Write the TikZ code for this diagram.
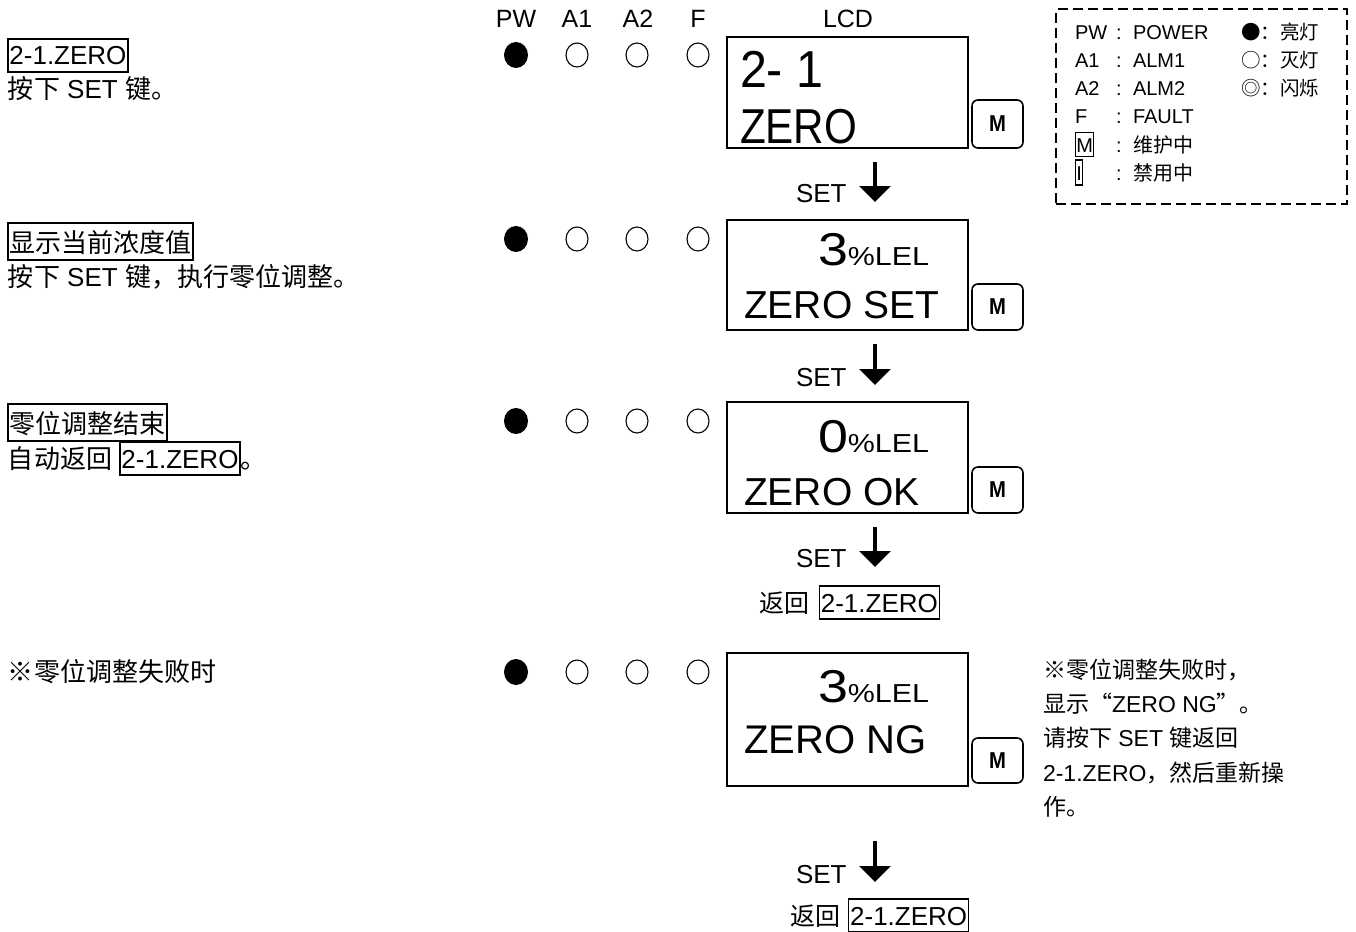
\documentclass[tikz,border=0pt]{standalone}
\usepackage{fontspec}
\usepackage{graphicx}
\setmainfont{Liberation Sans}
\newfontfamily\cjk{Noto Sans CJK SC}
\usetikzlibrary{arrows.meta,shapes.geometric}
\newcommand{\fs}[1]{\fontsize{#1}{#1}\selectfont}
\begin{document}
\begin{tikzpicture}[x=1pt,y=-1pt,
 txt/.style={anchor=base west, inner sep=0pt, outer sep=0pt},
 ctxt/.style={anchor=base, inner sep=0pt, outer sep=0pt},
 lcdbox/.style={draw, line width=2pt, minimum width=241pt, inner sep=0pt},
 mbtn/.style={draw, line width=1.6pt, rounded corners=6pt, minimum width=51pt, inner sep=0pt},
 ledon/.style={ellipse, fill=black, minimum width=24pt, minimum height=26pt, inner sep=0pt},
 ledoff/.style={ellipse, draw, line width=1.1pt, minimum width=22pt, minimum height=24pt, inner sep=0pt},
 zbox/.style={draw, line width=1.3pt, anchor=base west, inner xsep=1.5pt, inner ysep=0pt, text height=26pt, text depth=7pt, font=\fs{26}},
 cbox/.style={zbox, text height=29pt, text depth=8pt, font=\cjk\fs{26}},
 setarr/.style={line width=3.5pt, -{Triangle[width=31pt,length=16pt]}},
 setlbl/.style={txt, font=\fs{26}},
 hdr/.style={ctxt, font=\fs{25}},
 lgd/.style={txt, font=\fs{20}},
 legendbox/.style={draw, line width=2pt, dash pattern=on 10pt off 5pt, inner sep=0pt},
]
\useasboundingbox (0,0) rectangle (1356,931);
\clip (0,0) rectangle (1356,931);

% ---------- left column ----------
\node[zbox] (t1) at (7.3,65) {2-1.ZERO};
\node[txt, font=\fs{26}] (t1b) at (8,99) {{\cjk 按下} SET {\cjk 键。}};
\node[cbox] (t2) at (7.3,252) {显示当前浓度值};
\node[txt, font=\fs{26}] (t2b) at (8,286) {{\cjk 按下} SET {\cjk 键，执行零位调整。}};
\node[cbox] (t3) at (7.3,433) {零位调整结束};
\node[txt, font=\cjk\fs{26}] (t3b) at (8,468) {自动返回};
\node[zbox] (t3c) at (119.3,468) {2-1.ZERO};
\node[txt, font=\cjk\fs{26}] (t3d) at (t3c.base east) {。};
\node[txt, font=\cjk\fs{26}] (t4) at (8,681) {※零位调整失败时};

% ---------- LED header ----------
\node[hdr] (hpw) at (516,28) {PW};
\node[hdr] (ha1) at (577,28) {A1};
\node[hdr] (ha2) at (638,28) {A2};
\node[hdr] (hf) at (698,28) {F};
\node[hdr] (hlcd) at (848,28) {LCD};

\foreach \r/\y in {1/55,2/239,3/421,4/672}{
  \node[ledon] (pw\r) at (516,\y) {};
  \node[ledoff] (aa\r) at (577,\y) {};
  \node[ledoff] (ab\r) at (637,\y) {};
  \node[ledoff] (ff\r) at (698,\y) {};
}

% ---------- LCD boxes ----------
\node[lcdbox, minimum height=111.6pt] (lcd1) at (847.8,92.5) {};
\node[lcdbox, minimum height=110pt] (lcd2) at (847.8,275) {};
\node[lcdbox, minimum height=111pt] (lcd3) at (847.8,457.5) {};
\node[lcdbox, minimum height=133pt] (lcd4) at (847.8,719.5) {};

\node[txt] (l1a) at (740,88) {\fs{52}\scalebox{0.93}[1]{2- 1}};
\node[txt] (l1b) at (740,143) {\fs{49}\scalebox{0.86}[1]{ZERO}};
\node[txt] (l2a) at (818,265) {\scalebox{1.17}[1]{\fs{46}3\fs{26}\%LEL}};
\node[txt] (l2b) at (744,318) {\fs{39}ZERO SET};
\node[txt] (l3a) at (818,452) {\scalebox{1.17}[1]{\fs{46}0\fs{26}\%LEL}};
\node[txt] (l3b) at (744,505) {\fs{39}ZERO OK};
\node[txt] (l4a) at (818,702) {\scalebox{1.17}[1]{\fs{46}3\fs{26}\%LEL}};
\node[txt] (l4b) at (744,753) {\fs{40}ZERO NG};

% ---------- M buttons ----------
\newcommand{\mlbl}{\fs{23}\bfseries\scalebox{0.88}[1]{M}}
\node[mbtn, minimum height=48pt] (m1) at (997.5,124) {\mlbl};
\node[mbtn, minimum height=46pt] (m2) at (997.5,307) {\mlbl};
\node[mbtn, minimum height=46pt] (m3) at (997.5,490) {\mlbl};
\node[mbtn, minimum height=45pt] (m4) at (997.5,760.5) {\mlbl};

% ---------- SET arrows ----------
\coordinate (s1a) at (875,162); \coordinate (s1b) at (875,202);
\coordinate (s2a) at (875,344); \coordinate (s2b) at (875,385);
\coordinate (s3a) at (875,527); \coordinate (s3b) at (875,567);
\coordinate (s4a) at (875,841); \coordinate (s4b) at (875,882);
\draw[setarr] (s1a) -- (s1b);
\draw[setarr] (s2a) -- (s2b);
\draw[setarr] (s3a) -- (s3b);
\draw[setarr] (s4a) -- (s4b);
\node[setlbl] (set1) at (796,202) {SET};
\node[setlbl] (set2) at (796,386) {SET};
\node[setlbl] (set3) at (796,567) {SET};
\node[setlbl] (set4) at (796,883) {SET};

% ---------- return labels ----------
\node[txt, font=\cjk\fs{25}] (r1a) at (759,612) {返回};
\node[zbox] (r1b) at (818.7,612) {2-1.ZERO};
\node[txt, font=\cjk\fs{25}] (r2a) at (790,925) {返回};
\node[zbox] (r2b) at (848,925) {2-1.ZERO};

% ---------- right note ----------
\node[txt, font=\fs{23}] (n1) at (1043,678) {{\cjk ※零位调整失败时，}};
\node[txt, font=\fs{23}] (n2) at (1043,712) {{\cjk 显示“}ZERO NG{\cjk ”。}};
\node[txt, font=\fs{23}] (n3) at (1043,746) {{\cjk 请按下} SET {\cjk 键返回}};
\node[txt, font=\fs{23}] (n4) at (1043,781) {2-1.ZERO{\cjk ，然后重新操}};
\node[txt, font=\fs{23}] (n5) at (1043,815) {{\cjk 作。}};

% ---------- legend ----------
\node[legendbox, minimum width=291pt, minimum height=194.7pt] (legend) at (1201.5,106.65) {};
\node[lgd] (g1) at (1075,40) {PW};
\node[lgd] (g2) at (1075,68) {A1};
\node[lgd] (g3) at (1075,96) {A2};
\node[lgd] (g4) at (1075,124) {F};
\node[draw, line width=1.3pt, anchor=base west, inner xsep=0.6pt, inner ysep=0pt, text height=19.5pt, text depth=4.5pt, font=\fs{20}] (g5) at (1075,152) {M};
\node[draw, line width=1.3pt, anchor=base west, inner xsep=0.6pt, inner ysep=0pt, text height=20pt, text depth=5pt, font=\fs{20}] (g6) at (1075,180) {I};
\foreach \b/\n in {40/1,68/2,96/3,124/4,152/5,180/6}{
  \node[lgd] (c\n) at (1116,\b) {:};
}
\node[lgd] (v1) at (1133,40) {POWER};
\node[lgd] (v2) at (1133,68) {ALM1};
\node[lgd] (v3) at (1133,96) {ALM2};
\node[lgd] (v4) at (1133,124) {FAULT};
\node[lgd, font=\cjk\fs{20}] (v5) at (1133,152) {维护中};
\node[lgd, font=\cjk\fs{20}] (v6) at (1133,180) {禁用中};
\node[txt, font=\cjk\fs{19.5}] (k1) at (1241,40) {●：亮灯};
\node[txt, font=\cjk\fs{19.5}] (k2) at (1241,68) {○：灭灯};
\node[txt, font=\cjk\fs{19.5}] (k3) at (1241,96) {◎：闪烁};
\end{tikzpicture}
\end{document}
